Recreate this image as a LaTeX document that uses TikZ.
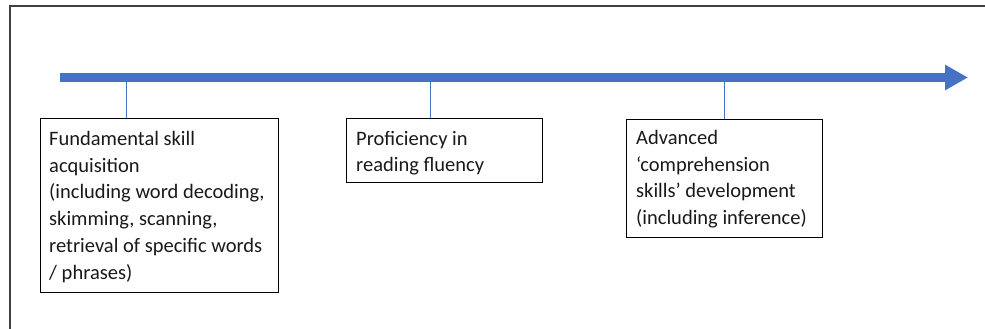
\documentclass[tikz,border=0pt]{standalone}
\usepackage{fontspec}
\setmainfont{Carlito}
\usetikzlibrary{arrows.meta}
\definecolor{timeblue}{HTML}{4472C4}
\definecolor{framegray}{HTML}{404040}
\begin{document}
\begin{tikzpicture}[x=1pt,y=-1pt,
  stagebox/.style={draw=black, line width=1.3pt, rectangle, anchor=north west, inner sep=0pt},
  stagetext/.style={anchor=base west, inner sep=0pt, text=black!90,
    font=\fontsize{20.5}{26.7}\selectfont},
  tick/.style={draw=timeblue, line width=0.8pt}]
\useasboundingbox (0,0) rectangle (985,329);

% outer frame (left and top edges)
\draw[framegray, line width=2pt] (10,332) -- (10,6) -- (988,6);

% timeline arrow
\coordinate (start) at (60,77.5);
\coordinate (end) at (968,77.5);
\draw[timeblue, line width=9pt, -{Triangle[length=23pt,width=24pt]}] (start) -- (end);

% stage boxes
\node[stagebox, minimum width=238pt, minimum height=174pt] (b1) at (40,118) {};
\node[stagebox, minimum width=196pt, minimum height=64pt] (b2) at (346,118) {};
\node[stagebox, minimum width=196pt, minimum height=118pt] (b3) at (626,119) {};

% stage labels
\node[stagetext] (l1) at (49,145.5) {\begin{tabular}[t]{@{}l@{}}Fundamental skill\\ acquisition\\ (including word decoding,\\ skimming, scanning,\\ retrieval of specific words\\ / phrases)\end{tabular}};
\node[stagetext] (l2) at (356,145) {\begin{tabular}[t]{@{}l@{}}Proficiency in\\ reading fluency\end{tabular}};
\node[stagetext] (l3) at (636,144.5) {\begin{tabular}[t]{@{}l@{}}Advanced\\ ‘comprehension\\ skills’ development\\ (including inference)\end{tabular}};

% ticks joining the timeline to each stage
\coordinate (t1) at (126,82);
\coordinate (t2) at (430,82);
\coordinate (t3) at (724,82);
\draw[tick] (t1) -- (t1 |- b1.north);
\draw[tick] (t2) -- (t2 |- b2.north);
\draw[tick] (t3) -- (t3 |- b3.north);
\end{tikzpicture}
\end{document}
